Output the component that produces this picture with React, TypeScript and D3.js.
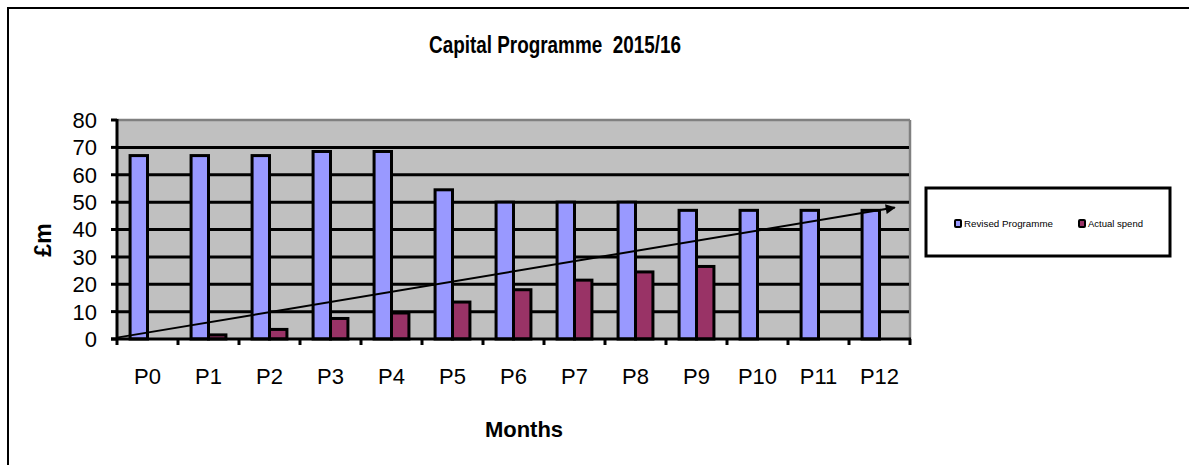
import React from "react";
import * as d3 from "d3";

const categories = ["P0", "P1", "P2", "P3", "P4", "P5", "P6", "P7", "P8", "P9", "P10", "P11", "P12"];
const revisedProgramme = [67, 67, 67, 68.5, 68.5, 54.5, 50, 50, 50, 47, 47, 47, 47];
const actualSpend = [0, 1.5, 3.5, 7.5, 9.5, 13.5, 18, 21.5, 24.5, 26.5, null, null, null];
const yTicks = [0, 10, 20, 30, 40, 50, 60, 70, 80];
const seriesNames = ["Revised Programme", "Actual spend"];
const seriesColors = ["#9999FF", "#993366"];
// trend arrow: [position in category units from axis start, value]
const trendArrow: [number, number][] = [[0, 0.5], [12.75, 48]];

const W = 1189;
const H = 465;
const M = { left: 117, right: 910, top: 120, bottom: 339 };
const FONT = "'Liberation Sans', Arial, sans-serif";

export default function App() {
  const x = d3.scaleBand<string>().domain(categories).range([M.left, M.right]).paddingInner(0).paddingOuter(0);
  const y = d3.scaleLinear().domain([0, 80]).range([M.bottom, M.top]);
  const bw = x.bandwidth();
  const barW = bw / 3.5;
  const off = barW * 0.75;
  const xPos = d3.scaleLinear().domain([0, categories.length]).range([M.left, M.right]);
  const trendLine = d3.line<[number, number]>().x((d) => xPos(d[0])).y((d) => y(d[1]));

  const series = [revisedProgramme, actualSpend];
  const SW = 3;

  return (
    <svg width={W} height={H} style={{ position: "absolute", left: 0, top: 0, background: "#fff" }} fontFamily={FONT}>
      <defs>
        <marker id="arrow" viewBox="0 0 10 10" refX="9" refY="5" markerWidth="8" markerHeight="5" orient="auto" markerUnits="strokeWidth">
          <path d="M0,0 L10,5 L0,10 z" fill="#000" />
        </marker>
      </defs>
      {/* outer border: top and left */}
      <line x1={7} y1={8} x2={W} y2={8} stroke="#000" strokeWidth={2} />
      <line x1={8} y1={7} x2={8} y2={H} stroke="#000" strokeWidth={2} />

      <text x={555} y={53} textAnchor="middle" fontSize={23} fontWeight="bold" xmlSpace="preserve" textLength={252} lengthAdjust="spacingAndGlyphs">
        Capital Programme  2015/16
      </text>

      {/* plot area */}
      <rect x={M.left} y={M.top} width={M.right - M.left} height={M.bottom - M.top} fill="#C0C0C0" />
      <line x1={M.left} y1={M.top} x2={M.right} y2={M.top} stroke="#808080" strokeWidth={2.5} />
      <line x1={M.right} y1={M.top} x2={M.right} y2={M.bottom} stroke="#808080" strokeWidth={2.5} />
      {yTicks.filter((t) => t > 0 && t < 80).map((t) => (
        <line key={t} x1={M.left} x2={M.right - 1} y1={y(t)} y2={y(t)} stroke="#000" strokeWidth={SW} />
      ))}

      {/* bars */}
      {series.map((vals, si) =>
        vals.map((v, i) =>
          v == null || v <= 0 ? null : (
            <rect
              key={`${si}-${i}`}
              x={(x(categories[i]) as number) + off + si * barW}
              y={y(v)}
              width={barW}
              height={y(0) - y(v)}
              fill={seriesColors[si]}
              stroke="#000"
              strokeWidth={SW}
            />
          )
        )
      )}

      {/* axes */}
      <line x1={M.left} y1={M.top - 1} x2={M.left} y2={M.bottom + 6} stroke="#000" strokeWidth={SW} />
      <line x1={M.left - 6} y1={M.bottom} x2={M.right + 1} y2={M.bottom} stroke="#000" strokeWidth={SW} />
      {yTicks.map((t) => (
        <g key={t}>
          <line x1={M.left - 6} x2={M.left} y1={y(t)} y2={y(t)} stroke="#000" strokeWidth={SW} />
          <text x={97} y={y(t)} dy="0.36em" textAnchor="end" fontSize={22}>
            {t}
          </text>
        </g>
      ))}
      {categories.map((c, i) => (
        <g key={c}>
          <line x1={xPos(i + 1)} x2={xPos(i + 1)} y1={M.bottom} y2={M.bottom + 6} stroke="#000" strokeWidth={SW} />
          <text x={(x(c) as number) + bw / 2} y={384} textAnchor="middle" fontSize={22}>
            {c}
          </text>
        </g>
      ))}

      {/* trend arrow */}
      <path d={trendLine(trendArrow) || ""} stroke="#000" strokeWidth={2} fill="none" markerEnd="url(#arrow)" />

      {/* axis titles */}
      <text transform="translate(51,240) rotate(-90)" textAnchor="middle" fontSize={23} fontWeight="bold">
        £m
      </text>
      <text x={524} y={437} textAnchor="middle" fontSize={22} fontWeight="bold">
        Months
      </text>

      {/* legend */}
      <rect x={926} y={188} width={244} height={68} fill="#fff" stroke="#000" strokeWidth={3} />
      {seriesNames.map((n, i) => {
        const lx = i === 0 ? 955 : 1079;
        return (
          <g key={n}>
            <rect x={lx} y={220} width={6} height={7} fill={seriesColors[i]} stroke="#000" strokeWidth={2} rx={1} />
            <text x={lx + 9} y={227} fontSize={9.5} textLength={i === 0 ? 89 : 55} lengthAdjust="spacingAndGlyphs">
              {n}
            </text>
          </g>
        );
      })}
    </svg>
  );
}
